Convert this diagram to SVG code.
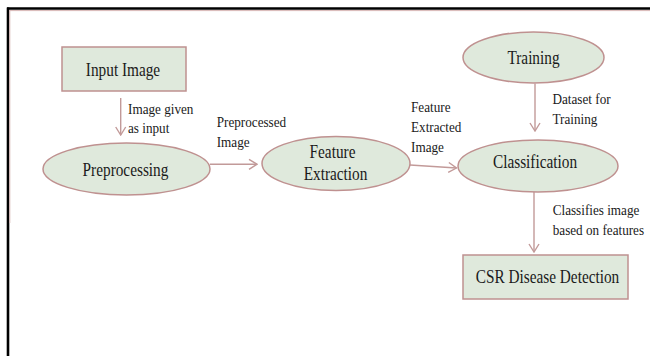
<svg xmlns="http://www.w3.org/2000/svg" width="650" height="356" viewBox="0 0 650 356">
<defs>
<style>
.node{fill:#dfe9dc;stroke:#bf9190;stroke-width:1.5}
.conn{stroke:#c29a99;stroke-width:1.4;fill:none}
.nt{font-family:"Liberation Serif","Times New Roman","DejaVu Serif",serif;font-size:18px;fill:#1a1a1a;text-anchor:middle}
.lt{font-family:"Liberation Serif","Times New Roman","DejaVu Serif",serif;font-size:15.5px;fill:#1a1a1a}
</style>
<marker id="arr" viewBox="0 0 10 12" refX="9" refY="6" markerWidth="10" markerHeight="12" markerUnits="userSpaceOnUse" orient="auto">
<path d="M1,1 L9,6 L1,11" fill="none" stroke="#c29a99" stroke-width="1.4"/>
</marker>
</defs>
<rect width="650" height="356" fill="#ffffff"/>
<g id="frame">
<line x1="7" y1="8.5" x2="650" y2="8.5" stroke="#000" stroke-width="2.6"/>
<line x1="8" y1="7.5" x2="8" y2="356" stroke="#000" stroke-width="2.6"/>
<line x1="9.5" y1="10.6" x2="650" y2="10.6" stroke="#d8b7b5" stroke-width="1"/>
<line x1="9.8" y1="10.5" x2="9.8" y2="223" stroke="#d8b7b5" stroke-width="1"/>
</g>
<g id="connectors">
<line class="conn" x1="120.7" y1="98" x2="120.7" y2="135" marker-end="url(#arr)"/>
<line class="conn" x1="210" y1="164.3" x2="257" y2="164.3" marker-end="url(#arr)"/>
<line class="conn" x1="410" y1="165" x2="456.5" y2="168" marker-end="url(#arr)"/>
<line class="conn" x1="535" y1="83.5" x2="535" y2="131" marker-end="url(#arr)"/>
<line class="conn" x1="534" y1="192" x2="534" y2="252" marker-end="url(#arr)"/>
<text class="lt" transform="translate(128,113.5) scale(0.85,1)">Image given</text>
<text class="lt" transform="translate(128,133) scale(0.85,1)">as input</text>
<text class="lt" transform="translate(216.7,127) scale(0.85,1)">Preprocessed</text>
<text class="lt" transform="translate(216.7,146.5) scale(0.85,1)">Image</text>
<text class="lt" transform="translate(411,112) scale(0.85,1)">Feature</text>
<text class="lt" transform="translate(411,132) scale(0.85,1)">Extracted</text>
<text class="lt" transform="translate(411,152) scale(0.85,1)">Image</text>
<text class="lt" transform="translate(552.5,104) scale(0.85,1)">Dataset for</text>
<text class="lt" transform="translate(552.5,123.5) scale(0.85,1)">Training</text>
<text class="lt" transform="translate(552.7,215) scale(0.85,1)">Classifies image</text>
<text class="lt" transform="translate(552.7,235) scale(0.85,1)">based on features</text>
</g>
<g id="input-image">
<rect class="node" x="62" y="47" width="124" height="44"/>
<text class="nt" transform="translate(123,76) scale(0.85,1)">Input Image</text>
</g>
<g id="preprocessing">
<ellipse class="node" cx="126.5" cy="169" rx="83.5" ry="26"/>
<text class="nt" transform="translate(125.5,176) scale(0.85,1)">Preprocessing</text>
</g>
<g id="feature-extraction">
<ellipse class="node" cx="336" cy="163.5" rx="74" ry="27"/>
<text class="nt" transform="translate(332.5,158) scale(0.85,1)">Feature</text>
<text class="nt" transform="translate(335.5,179.5) scale(0.85,1)">Extraction</text>
</g>
<g id="training">
<ellipse class="node" cx="533.5" cy="57.5" rx="70.5" ry="25.5"/>
<text class="nt" transform="translate(533.5,63.5) scale(0.85,1)">Training</text>
</g>
<g id="classification">
<ellipse class="node" cx="538" cy="166" rx="80" ry="26"/>
<text class="nt" transform="translate(535,167.5) scale(0.85,1)">Classification</text>
</g>
<g id="csr-disease-detection">
<rect class="node" x="463" y="255" width="165" height="44"/>
<text class="nt" transform="translate(547.5,282.7) scale(0.85,1)">CSR Disease Detection</text>
</g>
</svg>
